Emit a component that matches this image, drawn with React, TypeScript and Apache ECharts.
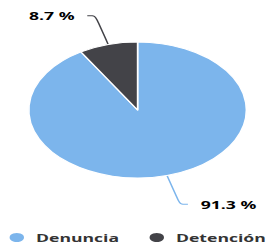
import React, { useEffect, useRef } from "react";
import * as echarts from "echarts";

const categories = ["Denuncia", "Detención"];
const values = [91.3, 8.7];
const colors = ["#7cb5ec", "#434348"];

const SX = 1.6;
const W = 270 / SX;
const H = 246;

export default function App() {
  const ref = useRef<HTMLDivElement>(null);
  useEffect(() => {
    const chart = echarts.init(ref.current!, null, { renderer: "svg", width: W, height: H });
    chart.setOption({
      animation: false,
      color: colors,
      legend: {
        bottom: 2,
        left: 4,
        width: 166,
        padding: 0,
        icon: "circle",
        itemWidth: 14,
        itemHeight: 11,
        itemGap: 17,
        textStyle: { fontFamily: "Open Sans", fontWeight: "bold", fontSize: 11, color: "#333" },
      },
      series: [
        {
          type: "pie",
          center: [86, 110],
          radius: 68,
          startAngle: 90,
          clockwise: true,
          itemStyle: { borderColor: "#fff", borderWidth: 1 },
          label: {
            formatter: (p: any) => p.value.toFixed(1) + " %",
            fontFamily: "Open Sans",
            fontWeight: "bold",
            fontSize: 11,
            color: "#000",
            padding: [6, 3, 0, 3],
          },
          labelLine: { length: 30, length2: 5, smooth: true, lineStyle: { width: 1 } },
          emphasis: { disabled: true },
          data: categories.map((c, i) => ({ name: c, value: values[i] })),
        },
      ],
    });
    return () => chart.dispose();
  }, []);
  return (
    <div style={{ position: "fixed", left: 0, top: 0, width: 270, height: 246, overflow: "hidden", background: "#fff" }}>
      <div ref={ref} style={{ width: W, height: H, transform: `scaleX(${SX})`, transformOrigin: "0 0" }} />
    </div>
  );
}
